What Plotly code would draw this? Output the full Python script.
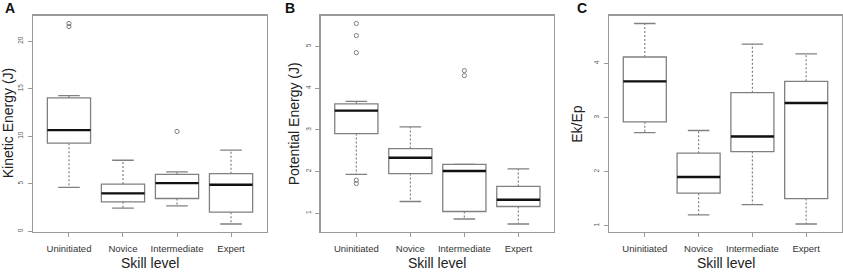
import plotly.graph_objects as go

W, H = 843, 273

categories = ["Uninitiated", "Novice", "Intermediate", "Expert"]
positions = [1, 2, 3, 4]

# Panel A: Kinetic Energy (J)
a_q1 = [9.27, 3.10, 3.45, 2.01]
a_med = [10.64, 3.99, 5.07, 4.90]
a_q3 = [14.03, 4.97, 5.99, 6.06]
a_lo = [4.62, 2.43, 2.68, 0.77]
a_hi = [14.27, 7.47, 6.24, 8.53]
a_out_x = [1, 1, 3]
a_out_y = [21.53, 21.85, 10.5]
a_ticks = [0, 5, 10, 15, 20]

# Panel B: Potential Energy (J)
b_q1 = [2.91, 1.95, 1.04, 1.16]
b_med = [3.46, 2.33, 2.01, 1.32]
b_q3 = [3.62, 2.55, 2.17, 1.64]
b_lo = [1.93, 1.28, 0.86, 0.74]
b_hi = [3.68, 3.07, 2.17, 2.06]
b_out_x = [1, 1, 1, 1, 1, 3, 3]
b_out_y = [5.55, 5.26, 4.85, 1.79, 1.71, 4.42, 4.30]
b_ticks = [1, 2, 3, 4, 5]

# Panel C: Ek/Ep
c_q1 = [2.92, 1.60, 2.37, 1.50]
c_med = [3.67, 1.90, 2.65, 3.27]
c_q3 = [4.12, 2.34, 3.46, 3.67]
c_lo = [2.72, 1.20, 1.39, 1.03]
c_hi = [4.74, 2.76, 4.36, 4.18]
c_out_x = []
c_out_y = []
c_ticks = [1, 2, 3, 4]

panels = [
    dict(letter="A", ytitle="Kinetic Energy (J)", q1=a_q1, med=a_med, q3=a_q3, lo=a_lo, hi=a_hi,
         ox=a_out_x, oy=a_out_y, ticks=a_ticks, px=(33.3, 266.7), ltx=10, ytx=7.5),
    dict(letter="B", ytitle="Potential Energy (J)", q1=b_q1, med=b_med, q3=b_q3, lo=b_lo, hi=b_hi,
         ox=b_out_x, oy=b_out_y, ticks=b_ticks, px=(320.7, 554.0), ltx=290, ytx=293.5),
    dict(letter="C", ytitle="Ek/Ep", q1=c_q1, med=c_med, q3=c_q3, lo=c_lo, hi=c_hi,
         ox=c_out_x, oy=c_out_y, ticks=c_ticks, px=(609.3, 841.7), ltx=582, ytx=577),
]

FRAME = "#9a9a9a"
BOXC = "#808080"
FONT = "Liberation Sans, Arial, sans-serif"
top_px, bot_px = 15.5, 232.0

fig = go.Figure()
annotations = []
layout = {}

for k, p in enumerate(panels):
    n = k + 1
    xa = "x" if n == 1 else f"x{n}"
    ya = "y" if n == 1 else f"y{n}"
    # boxes (whiskers handled separately)
    fig.add_trace(go.Box(
        x=positions, q1=p["q1"], median=p["med"], q3=p["q3"],
        lowerfence=p["q1"], upperfence=p["q3"], width=0.8,
        fillcolor="white", line=dict(color=BOXC, width=1.3),
        boxpoints=False, hoverinfo="skip", showlegend=False, xaxis=xa, yaxis=ya))
    # dashed whiskers
    wx, wy = [], []
    for i, x in enumerate(positions):
        wx += [x, x, None, x, x, None]
        wy += [p["q1"][i], p["lo"][i], None, p["q3"][i], p["hi"][i], None]
    fig.add_trace(go.Scatter(x=wx, y=wy, mode="lines", line=dict(color=BOXC, width=1.2, dash="2px,2px"),
                             hoverinfo="skip", showlegend=False, xaxis=xa, yaxis=ya))
    # caps
    cx, cy = [], []
    for i, x in enumerate(positions):
        cx += [x - 0.2, x + 0.2, None, x - 0.2, x + 0.2, None]
        cy += [p["lo"][i], p["lo"][i], None, p["hi"][i], p["hi"][i], None]
    fig.add_trace(go.Scatter(x=cx, y=cy, mode="lines", line=dict(color=BOXC, width=1.3),
                             hoverinfo="skip", showlegend=False, xaxis=xa, yaxis=ya))
    # medians
    mx, my = [], []
    for i, x in enumerate(positions):
        mx += [x - 0.4, x + 0.4, None]
        my += [p["med"][i], p["med"][i], None]
    fig.add_trace(go.Scatter(x=mx, y=my, mode="lines", line=dict(color="#111111", width=2.4),
                             hoverinfo="skip", showlegend=False, xaxis=xa, yaxis=ya))
    # outliers
    if p["ox"]:
        fig.add_trace(go.Scatter(x=p["ox"], y=p["oy"], mode="markers",
                                 marker=dict(symbol="circle-open", size=4.2, color="#707070",
                                             line=dict(width=0.9, color="#707070")),
                                 hoverinfo="skip", showlegend=False, xaxis=xa, yaxis=ya))
    # R-style range: data range padded 4%
    vals = p["lo"] + p["hi"] + p["oy"]
    lo, hi = min(vals), max(vals)
    pad = 0.04 * (hi - lo)
    x0, x1 = p["px"]
    layout["xaxis" if n == 1 else f"xaxis{n}"] = dict(
        domain=[x0 / W, x1 / W], range=[0.5 - 0.16, 4.5 + 0.16], anchor=ya,
        tickvals=positions, ticktext=categories, ticks="outside", ticklen=4, tickcolor=FRAME,
        showline=True, linecolor=FRAME, linewidth=1.3, mirror=True, showgrid=False, zeroline=False,
        tickfont=dict(size=9.5, color="#333333", family=FONT), ticklabelstandoff=3)
    layout["yaxis" if n == 1 else f"yaxis{n}"] = dict(
        domain=[1 - bot_px / H, 1 - top_px / H], range=[lo - pad, hi + pad], anchor=xa,
        tickvals=p["ticks"], ticks="outside", ticklen=4, tickcolor=FRAME, tickangle=-90,
        showline=True, linecolor=FRAME, linewidth=1.3, mirror=True, showgrid=False, zeroline=False,
        tickfont=dict(size=6.5, color="#555555", family=FONT), ticklabelstandoff=2)
    # panel letter
    annotations.append(dict(text=f"<b>{p['letter']}</b>", x=p["ltx"] / W, y=1 - 8 / H, xref="paper", yref="paper",
                            xanchor="center", yanchor="middle", showarrow=False,
                            font=dict(size=14, color="#111111", family=FONT)))
    # y title
    annotations.append(dict(text=p["ytitle"], x=p["ytx"] / W, y=1 - ((top_px + bot_px) / 2) / H,
                            xref="paper", yref="paper", xanchor="center", yanchor="middle",
                            textangle=-90, showarrow=False, font=dict(size=14, color="#222222", family=FONT)))
    # x title
    annotations.append(dict(text="Skill level", x=((x0 + x1) / 2) / W, y=1 - 263 / H,
                            xref="paper", yref="paper", xanchor="center", yanchor="middle",
                            showarrow=False, font=dict(size=14, color="#222222", family=FONT)))

fig.update_layout(
    width=W, height=H, margin=dict(l=0, r=0, t=0, b=0),
    paper_bgcolor="white", plot_bgcolor="white", showlegend=False,
    annotations=annotations, **layout)

fig.write_html("out.html", config={"displayModeBar": False, "staticPlot": True},
               post_script="document.body.style.margin='0';document.body.style.overflow='hidden';")
